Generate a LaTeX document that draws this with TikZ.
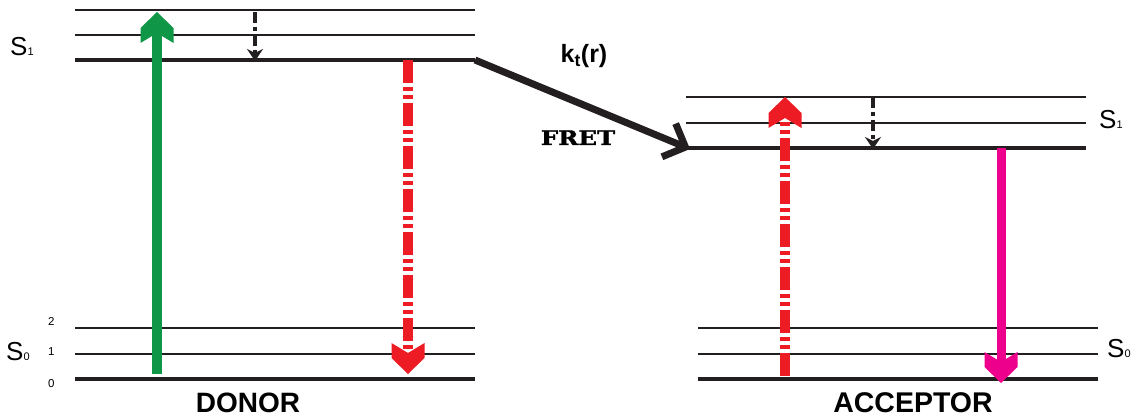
\documentclass[tikz,border=0pt]{standalone}
\usepackage{fontspec}
\setmainfont{Liberation Sans}
\newfontfamily\fretfont[FakeBold=1.5]{DejaVu Serif}
\usetikzlibrary{arrows.meta}
\definecolor{dgreen}{HTML}{0F9647}
\definecolor{dred}{HTML}{ED1C24}
\definecolor{dmag}{HTML}{EC008C}
\definecolor{dblack}{HTML}{231F20}
\tikzset{
  thinlvl/.style={draw=dblack,line width=2pt},
  thicklvl/.style={draw=dblack,line width=4pt},
  chevron/.pic={\fill (0,0)--(16.5,16)--(16.5,31)--(0,21)--(-16.5,31)--(-16.5,16)--cycle;},
  reddash/.style={draw=dred,line width=10pt,dash pattern=on 23pt off 4pt on 4pt off 4pt on 4pt off 4pt},
  smallrelax/.style={draw=dblack,line width=3.5pt,dash pattern=on 11pt off 4pt on 4pt off 4pt,
     -{Stealth[length=12pt,width=16pt,inset=4pt]}},
  lbl/.style={inner sep=0pt,anchor=base west},
}
\begin{document}
\begin{tikzpicture}[x=1pt,y=-1pt]
\useasboundingbox (0,0) rectangle (1143,419);
% donor levels
\draw[thinlvl] (75,10) -- (475,10);
\draw[thinlvl] (75,35) -- (475,35);
\draw[thicklvl] (75,60) -- (475,60);
\draw[thinlvl] (75,328) -- (475,328);
\draw[thinlvl] (75,354) -- (475,354);
\draw[thicklvl] (75,379) -- (475,379);
% acceptor levels
\draw[thinlvl] (686,97) -- (1086,97);
\draw[thinlvl] (686,123) -- (1086,123);
\draw[thicklvl] (686,148) -- (1086,148);
\draw[thinlvl] (698,328) -- (1098,328);
\draw[thinlvl] (698,354) -- (1098,354);
\draw[thicklvl] (698,379) -- (1098,379);
% labels
\node[lbl] (ls1d) at (10,56) {\fontsize{26}{26}\selectfont S\fontsize{11}{11}\selectfont 1};
\node[lbl] (ls0d) at (6,361) {\fontsize{26}{26}\selectfont S\fontsize{11}{11}\selectfont 0};
\node[lbl] (n2) at (48,326) {\fontsize{11.5}{12}\selectfont 2};
\node[lbl] (n1) at (48,356) {\fontsize{11.5}{12}\selectfont 1};
\node[lbl] (n0) at (48,388) {\fontsize{11.5}{12}\selectfont 0};
\node[lbl] (ls1a) at (1099,129) {\fontsize{26}{26}\selectfont S\fontsize{11}{11}\selectfont 1};
\node[lbl] (ls0a) at (1107,358) {\fontsize{26}{26}\selectfont S\fontsize{11}{11}\selectfont 0};
\node[inner sep=0pt,anchor=base] (donor) at (248,413) {\fontsize{28}{28}\selectfont\bfseries DONOR};
\node[inner sep=0pt,anchor=base] (acceptor) at (913,413) {\fontsize{28.5}{28}\selectfont\bfseries ACCEPTOR};
\node[inner sep=0pt,anchor=base] (kt) at (584,63) {\fontsize{25}{25}\selectfont\bfseries k$_{\mathbf{t}}$(r)};
\node[inner sep=0pt,anchor=base] (fret) at (578,145) {\scalebox{1.22}[1]{\fretfont\bfseries\fontsize{20}{20}\selectfont FRET}};
% coordinates for transitions
\coordinate (gS) at (157,374);
\coordinate (gT) at (157,12);
\coordinate (rdS) at (408,60);
\coordinate (rdT) at (408,374);
\coordinate (dvS) at (255,12);
\coordinate (dvT) at (255,61);
\coordinate (raS) at (785,376);
\coordinate (raT) at (785,97);
\coordinate (avS) at (873,97);
\coordinate (avT) at (873,149);
\coordinate (mS) at (1001,148);
\coordinate (mT) at (1001,383);
\coordinate (fS) at (475,60);
\coordinate (fT) at (690,149);
% green absorption
\draw[dgreen,line width=10pt] (gS) -- ([yshift=-18]gT);
\pic[dgreen] at (gT) {chevron};
% donor emission
\draw[reddash] (rdS) -- ([yshift=18]rdT);
\pic[dred,rotate=180] at (rdT) {chevron};
% vibrational relaxation
\draw[smallrelax] (dvS) -- (dvT);
\draw[smallrelax] (avS) -- (avT);
% acceptor absorption (red dashed)
\draw[reddash] (raS) -- ([yshift=-19]raT);
\pic[dred] at (raT) {chevron};
% acceptor emission
\draw[dmag,line width=9pt] (mS) -- ([yshift=19]mT);
\pic[dmag,rotate=180] at (mT) {chevron};
% FRET arrow
\draw[dblack,line width=7pt,-{Straight Barb[length=18pt,width=36pt,line width=7pt]}] (fS) -- (fT);
\end{tikzpicture}
\end{document}
